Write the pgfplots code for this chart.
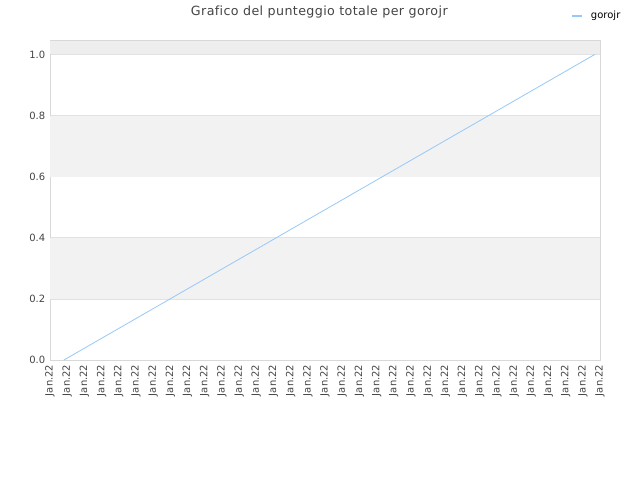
\documentclass[border=0pt]{standalone}
\usepackage{fontspec}
\setmainfont[Ligatures=NoCommon]{DejaVu Sans}
\newfontfamily\titlefont[Ligatures=NoCommon, LetterSpace=3]{DejaVu Sans}
\usepackage{pgfplots}
\pgfplotsset{compat=1.18}
\definecolor{bandgray}{HTML}{F2F2F2}
\definecolor{topgray}{HTML}{EEEEEE}
\definecolor{gridgray}{HTML}{E2E2E2}
\definecolor{framegray}{HTML}{D8D8D8}
\definecolor{txtgray}{HTML}{444444}
\definecolor{lineblue}{HTML}{96C8F8}
\begin{document}
\begin{tikzpicture}[x=1pt,y=1pt]
\useasboundingbox (0,0) rectangle (480,360);
\node[font=\titlefont\fontsize{9.5}{11}\selectfont, text=txtgray] at (239.5,351) {Grafico del punteggio totale per gorojr};
\begin{axis}[
  at={(37.5pt,90pt)}, anchor=south west,
  scale only axis, width=412.5pt, height=239.5pt,
  xmin=0, xmax=32, ymin=0, ymax=1.045,
  xtick={0,...,32}, xticklabel={Jan.22},
  xticklabel style={rotate=90, anchor=east, font=\fontsize{7.5}{9}\selectfont, text=txtgray},
  ytick={0,0.2,0.4,0.6,0.8,1.0},
  yticklabel style={font=\fontsize{7.5}{9}\selectfont, text=txtgray, /pgf/number format/.cd, fixed, fixed zerofill, precision=1, assume math mode=true},
  major tick length=0pt,
  axis line style={framegray},
  ymajorgrids, grid style={gridgray, line width=0.5pt},
  axis on top=false,
  legend style={at={(0.947,1.078)}, anchor=west, draw=none, fill=none, inner sep=0pt, column sep=4pt, font=\fontsize{7.5}{9}\selectfont},
  legend image code/.code={\draw[#1, line width=1.4pt] (0pt,0pt) -- (7.5pt,0pt);},
  legend cell align=left,
]
\fill[bandgray] (axis cs:0,0.2) rectangle (axis cs:32,0.4);
\fill[bandgray] (axis cs:0,0.6) rectangle (axis cs:32,0.8);
\fill[topgray] (axis cs:0,1.0) rectangle (axis cs:32,1.045);
\addplot[lineblue, line width=0.6pt, no marks] coordinates {(0.81,0) (31.7,1)};
\addlegendentry{gorojr}
\end{axis}
\end{tikzpicture}
\end{document}
